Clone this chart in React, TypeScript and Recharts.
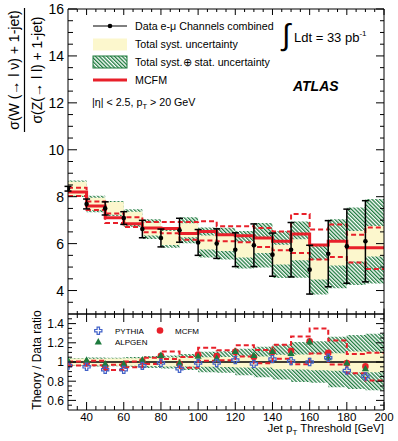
import React from 'react';
import { ComposedChart, Area, Line, Scatter, ErrorBar, XAxis, YAxis, ReferenceLine, Legend } from 'recharts';

const FONT = '"Liberation Sans", Arial, Helvetica, sans-serif';
const YELLOW = '#fcf7cd';
const GREEN = '#1d7a3d';
const RED = '#e8202a';
const BLUE = '#4262c8';

// ---- data (jet pT threshold bins, GeV) ----
const jetPtThresholds = [30, 40, 50, 60, 70, 80, 90, 100, 110, 120, 130, 140, 150, 160, 170, 180, 190];
const binEdges = [30, 40, 50, 60, 70, 80, 90, 100, 110, 120, 130, 140, 150, 160, 170, 180, 190, 200];

const dataRatio = [8.34, 7.69, 7.5, 7.09, 6.62, 6.24, 6.57, 6.05, 6.0, 5.74, 5.93, 5.53, 5.74, 4.89, 5.57, 5.89, 6.1];
const dataStatErr = [0.1, 0.21, 0.28, 0.27, 0.37, 0.38, 0.51, 0.55, 0.63, 0.72, 0.91, 0.92, 1.16, 1.04, 1.41, 1.58, 1.73];
const systHalfWidth = [0.3, 0.27, 0.27, 0.27, 0.27, 0.3, 0.3, 0.3, 0.32, 0.33, 0.33, 0.42, 0.45, 0.42, 0.5, 0.65, 0.65];
const totalHalfWidth = [0.35, 0.35, 0.32, 0.37, 0.42, 0.42, 0.55, 0.64, 0.68, 0.8, 0.95, 1.0, 1.2, 1.06, 1.47, 1.65, 1.8];
const mcfmCentral = [8.2, 7.6, 7.1, 6.85, 6.67, 6.64, 6.43, 6.52, 6.38, 6.34, 6.24, 6.1, 6.41, 5.94, 6.1, 5.82, 5.82];
const mcfmUpper = [8.38, 7.8, 7.28, 7.12, 6.92, 6.92, 6.92, 6.95, 6.74, 6.74, 6.67, 6.52, 7.26, 6.6, 6.81, 6.38, 6.69];
const mcfmLower = [8.03, 7.43, 6.88, 6.71, 6.48, 6.44, 6.17, 6.13, 6.1, 6.06, 5.86, 5.72, 5.6, 5.32, 5.43, 5.2, 4.92];

// ratio panel (theory / data)
const ratioSystHalf = [0.036, 0.035, 0.036, 0.038, 0.041, 0.048, 0.046, 0.05, 0.053, 0.057, 0.056, 0.076, 0.078, 0.086, 0.09, 0.11, 0.107];
const ratioTotalHalf = [0.042, 0.046, 0.043, 0.052, 0.063, 0.067, 0.084, 0.106, 0.113, 0.139, 0.16, 0.181, 0.209, 0.217, 0.264, 0.28, 0.295];
const ratioMcfm = [0.983, 0.988, 0.947, 0.966, 1.008, 1.064, 0.979, 1.078, 1.063, 1.105, 1.052, 1.103, 1.117, 1.215, 1.095, 0.988, 0.954];
const ratioMcfmUpper = [1.005, 1.014, 0.971, 1.004, 1.045, 1.109, 1.053, 1.149, 1.123, 1.174, 1.125, 1.179, 1.265, 1.35, 1.223, 1.083, 1.097];
const ratioMcfmLower = [0.963, 0.966, 0.917, 0.946, 0.979, 1.032, 0.939, 1.013, 1.017, 1.056, 0.988, 1.034, 0.976, 1.088, 0.975, 0.883, 0.807];
const ratioPythia = [0.963, 0.95, 0.92, 0.92, 0.96, 0.99, 0.93, 0.99, 0.99, 1.02, 0.98, 1.03, 1.01, 1.0, 1.045, 0.91, 0.85];
const ratioAlpgen = [1.02, 1.02, 0.98, 0.98, 1.02, 1.07, 0.99, 1.06, 1.04, 1.11, 1.07, 1.11, 1.09, 1.21, 1.045, 0.99, 0.93];

// ---- ticks ----
const topYTicks = [3.5, 4, 4.5, 5, 5.5, 6, 6.5, 7, 7.5, 8, 8.5, 9, 9.5, 10, 10.5, 11, 11.5, 12, 12.5, 13, 13.5, 14, 14.5, 15, 15.5, 16];
const topYLabels = [4, 6, 8, 10, 12, 14, 16];
const xTicks = [35, 40, 45, 50, 55, 60, 65, 70, 75, 80, 85, 90, 95, 100, 105, 110, 115, 120, 125, 130, 135, 140, 145, 150, 155, 160, 165, 170, 175, 180, 185, 190, 195, 200];
const xLabels = [40, 60, 80, 100, 120, 140, 160, 180, 200];
const ratioYTicks = [0.55, 0.6, 0.65, 0.7, 0.75, 0.8, 0.85, 0.9, 0.95, 1, 1.05, 1.1, 1.15, 1.2, 1.25, 1.3, 1.35, 1.4, 1.45];
const ratioYLabels = [0.6, 0.8, 1, 1.2, 1.4];

// ---- tables built from the arrays ----
const lastBin = jetPtThresholds.length - 1;
const topRows = binEdges.map((x, i) => {
  const k = Math.min(i, lastBin);
  return {
    x,
    syst: [dataRatio[k] - systHalfWidth[k], dataRatio[k] + systHalfWidth[k]],
    total: [dataRatio[k] - totalHalfWidth[k], dataRatio[k] + totalHalfWidth[k]],
    mcfm: mcfmCentral[k],
    up: mcfmUpper[k],
    down: mcfmLower[k],
  };
});
const dataPoints = jetPtThresholds.map((x, i) => ({ x, y: dataRatio[i], err: dataStatErr[i] }));

const ratioRows = binEdges.map((x, i) => {
  const k = Math.min(i, lastBin);
  return {
    x,
    syst: [1 - ratioSystHalf[k], 1 + ratioSystHalf[k]],
    total: [1 - ratioTotalHalf[k], 1 + ratioTotalHalf[k]],
    up: ratioMcfmUpper[k],
    down: ratioMcfmLower[k],
  };
});
const mcfmPoints = jetPtThresholds.map((x, i) => ({ x, y: ratioMcfm[i] }));
const pythiaPoints = jetPtThresholds.map((x, i) => ({ x, y: ratioPythia[i] }));
const alpgenPoints = jetPtThresholds.map((x, i) => ({ x, y: ratioAlpgen[i] }));

// ---- tick renderers ----
const isIn = (arr: number[], v: number) => arr.some((m) => Math.abs(m - v) < 1e-6);

const leftTick = (labels: number[], majorLen: number, minorLen: number, fs: number, fmt: (v: number) => string) =>
  (p: any) => {
    const v = p.payload.value;
    const major = isIn(labels, v);
    return (
      <g>
        <line x1={p.x} y1={p.y} x2={p.x + (major ? majorLen : minorLen)} y2={p.y} stroke="#000" strokeWidth={1} />
        {major ? (
          <text x={p.x - 4} y={p.y} dy="0.36em" textAnchor="end" fontSize={fs} fontFamily={FONT} fill="#000">
            {fmt(v)}
          </text>
        ) : null}
      </g>
    );
  };

const rightTick = (labels: number[], majorLen: number, minorLen: number) => (p: any) => {
  const major = isIn(labels, p.payload.value);
  return <line x1={p.x} y1={p.y} x2={p.x - (major ? majorLen : minorLen)} y2={p.y} stroke="#000" strokeWidth={1} />;
};

const bottomTick = (majorLen: number, minorLen: number, withLabels: boolean) => (p: any) => {
  const v = p.payload.value;
  const major = isIn(xLabels, v);
  return (
    <g>
      <line x1={p.x} y1={p.y} x2={p.x} y2={p.y - (major ? majorLen : minorLen)} stroke="#000" strokeWidth={1} />
      {withLabels && major ? (
        <text x={p.x} y={p.y + 7} dy="0.36em" textAnchor="middle" fontSize={11.5} fontFamily={FONT} fill="#000">
          {String(v)}
        </text>
      ) : null}
    </g>
  );
};

const topTick = (majorLen: number, minorLen: number) => (p: any) => {
  const major = isIn(xLabels, p.payload.value);
  return <line x1={p.x} y1={p.y} x2={p.x} y2={p.y + (major ? majorLen : minorLen)} stroke="#000" strokeWidth={1} />;
};

// ---- marker shapes ----
const DataDot = (p: any) => <circle cx={p.cx} cy={p.cy} r={2.3} fill="#000" />;
const RedDot = (p: any) => <circle cx={p.cx} cy={p.cy} r={3.3} fill={RED} />;
const crossPath = (cx: number, cy: number, s: number, a: number) =>
  `M${cx - a},${cy - s}L${cx + a},${cy - s}L${cx + a},${cy - a}L${cx + s},${cy - a}L${cx + s},${cy + a}L${cx + a},${cy + a}L${cx + a},${cy + s}L${cx - a},${cy + s}L${cx - a},${cy + a}L${cx - s},${cy + a}L${cx - s},${cy - a}L${cx - a},${cy - a}Z`;
const OpenCross = (p: any) => <path d={crossPath(p.cx, p.cy, 3.6, 1.2)} fill="none" stroke={BLUE} strokeWidth={1.2} />;
const triPath = (cx: number, cy: number) => `M${cx},${cy - 3.8}L${cx + 3.6},${cy + 2.6}L${cx - 3.6},${cy + 2.6}Z`;
const Triangle = (p: any) => <path d={triPath(p.cx, p.cy)} fill={GREEN} />;

const hatchDef = (id: string) => (
  <pattern id={id} patternUnits="userSpaceOnUse" width={2.7} height={10} patternTransform="rotate(-45)">
    <rect x={0} y={0} width={1.3} height={10} fill={GREEN} />
  </pattern>
);

// ---- annotation layers ----
const TopAnnotations = () => (
  <svg width={398} height={330} style={{ position: 'absolute', left: 0, top: 0 }} fontFamily={FONT}>
    <defs>{hatchDef('hatchLegendTop')}</defs>
    <text transform="translate(18.5,70) rotate(-90)" textAnchor="middle" fontSize={14} fill="#000">
      σ(W (→ l ν) + 1-jet)
    </text>
    <line x1={24.5} x2={24.5} y1={8} y2={132} stroke="#000" strokeWidth={1.2} />
    <text transform="translate(42,70) rotate(-90)" textAnchor="middle" fontSize={14} fill="#000">
      σ(Z(→ l l) + 1-jet)
    </text>

    <line x1={93} x2={127} y1={26} y2={26} stroke="#000" strokeWidth={1.2} />
    <circle cx={110} cy={26} r={2.3} fill="#000" />
    <text x={135} y={29.8} fontSize={10.7} fill="#000">Data e-μ Channels combined</text>

    <rect x={93} y={38.5} width={34} height={12} fill={YELLOW} />
    <text x={135} y={48.2} fontSize={10.7} fill="#000">Total syst. uncertainty</text>

    <rect x={93} y={56} width={34} height={12} fill="url(#hatchLegendTop)" stroke={GREEN} strokeWidth={1} />
    <text x={135} y={65.6} fontSize={10.7} fill="#000">Total syst.⊕ stat. uncertainty</text>

    <line x1={93} x2={127} y1={80} y2={80} stroke={RED} strokeWidth={3} />
    <text x={135} y={83.8} fontSize={10.7} fill="#000">MCFM</text>

    <text x={92} y={105.5} fontSize={10.7} fill="#000">
      |η| &lt; 2.5, p<tspan fontSize={7.5} dy={3}>T</tspan>
      <tspan dy={-3}> &gt; 20 GeV</tspan>
    </text>

    <text x={282} y={45} fontSize={30} fill="#000">∫</text>
    <text x={294} y={41.5} fontSize={13} fill="#000">
      Ldt = 33 pb<tspan fontSize={8} dy={-6}>-1</tspan>
    </text>
    <text x={293} y={91} fontSize={14} fontWeight="bold" fontStyle="italic" fill="#000">ATLAS</text>
  </svg>
);

const BottomAnnotations = () => (
  <svg width={398} height={141} style={{ position: 'absolute', left: 0, top: 0 }} fontFamily={FONT}>
    <path d={crossPath(98.3, 30.7, 3.6, 1.2)} fill="none" stroke={BLUE} strokeWidth={1.2} />
    <text x={115} y={33.9} fontSize={8} fill="#000">PYTHIA</text>
    <circle cx={160} cy={30.5} r={3.3} fill={RED} />
    <text x={175} y={33.9} fontSize={8} fill="#000">MCFM</text>
    <path d={triPath(98.3, 41.9)} fill={GREEN} />
    <text x={115} y={44.9} fontSize={8} fill="#000">ALPGEN</text>

    <text transform="translate(40.5,60) rotate(-90)" textAnchor="middle" fontSize={12} fill="#000">
      Theory / Data ratio
    </text>
    <text x={384} y={132.4} textAnchor="end" fontSize={11.5} fill="#000">
      Jet p<tspan fontSize={8} dy={3}>T</tspan>
      <tspan dy={-3}> Threshold [GeV]</tspan>
    </text>
  </svg>
);

const axisLine = { stroke: '#000', strokeWidth: 1 };

export default function App() {
  return (
    <div style={{ position: 'absolute', left: 0, top: 0, width: 398, height: 441, background: '#fff' }}>
      <div style={{ position: 'absolute', left: 0, top: 0 }}>
        <ComposedChart width={398} height={330} data={topRows} margin={{ top: 8, right: 13, bottom: 15, left: 67 }}>
          <defs>{hatchDef('hatchTop')}</defs>
          <XAxis xAxisId="b" dataKey="x" type="number" domain={[30, 200]} allowDataOverflow ticks={xTicks} interval={0}
            height={1} tickSize={0} tickMargin={0} tickLine={false} axisLine={axisLine} tick={bottomTick(5.5, 3, false)} />
          <XAxis xAxisId="t" dataKey="x" type="number" orientation="top" domain={[30, 200]} allowDataOverflow ticks={xTicks} interval={0}
            height={1} tickSize={0} tickMargin={0} tickLine={false} axisLine={axisLine} tick={topTick(6, 3)} />
          <YAxis yAxisId="l" type="number" domain={[3, 16]} allowDataOverflow ticks={topYTicks} interval={0}
            width={1} tickSize={0} tickMargin={0} tickLine={false} axisLine={axisLine}
            tick={leftTick(topYLabels, 9, 5, 14, (v) => String(v))} />
          <YAxis yAxisId="r" type="number" orientation="right" domain={[3, 16]} allowDataOverflow ticks={topYTicks} interval={0}
            width={1} tickSize={0} tickMargin={0} tickLine={false} axisLine={axisLine} tick={rightTick(topYLabels, 8, 4)} />

          <Area xAxisId="b" yAxisId="l" type="stepAfter" dataKey="total" stroke="none" fill="url(#hatchTop)" fillOpacity={1}
            isAnimationActive={false} activeDot={false} />
          <Area xAxisId="b" yAxisId="l" type="stepAfter" dataKey="syst" stroke="none" fill={YELLOW} fillOpacity={1}
            isAnimationActive={false} activeDot={false} />
          <Line xAxisId="b" yAxisId="l" type="stepAfter" dataKey="up" stroke={RED} strokeWidth={2} strokeDasharray="5 3"
            dot={false} activeDot={false} isAnimationActive={false} />
          <Line xAxisId="b" yAxisId="l" type="stepAfter" dataKey="down" stroke={RED} strokeWidth={2} strokeDasharray="5 3"
            dot={false} activeDot={false} isAnimationActive={false} />
          <Line xAxisId="b" yAxisId="l" type="stepAfter" dataKey="mcfm" stroke={RED} strokeWidth={3}
            dot={false} activeDot={false} isAnimationActive={false} />
          <Scatter xAxisId="b" yAxisId="l" data={dataPoints} dataKey="y" shape={DataDot} isAnimationActive={false}>
            <ErrorBar dataKey="err" direction="y" width={3.5} stroke="#000" strokeWidth={1.5} />
          </Scatter>
          <Legend content={() => <TopAnnotations />} layout="vertical" align="center" verticalAlign="middle"
            wrapperStyle={{ left: 0, top: 0, width: 398, height: 330, pointerEvents: 'none' }} />
        </ComposedChart>
      </div>

      <div style={{ position: 'absolute', left: 0, top: 300 }}>
        <ComposedChart width={398} height={141} data={ratioRows} margin={{ top: 13, right: 13, bottom: 30, left: 67 }}>
          <defs>{hatchDef('hatchRatio')}</defs>
          <XAxis xAxisId="b" dataKey="x" type="number" domain={[30, 200]} allowDataOverflow ticks={xTicks} interval={0}
            height={1} tickSize={0} tickMargin={0} tickLine={false} axisLine={axisLine} tick={bottomTick(8, 4, true)} />
          <XAxis xAxisId="t" dataKey="x" type="number" orientation="top" domain={[30, 200]} allowDataOverflow ticks={xTicks} interval={0}
            height={1} tickSize={0} tickMargin={0} tickLine={false} axisLine={axisLine} tick={topTick(8, 4)} />
          <YAxis yAxisId="l" type="number" domain={[0.5, 1.5]} allowDataOverflow ticks={ratioYTicks} interval={0}
            width={1} tickSize={0} tickMargin={0} tickLine={false} axisLine={axisLine}
            tick={leftTick(ratioYLabels, 8, 4, 12, (v) => (v === 1 ? '1' : v.toFixed(1)))} />
          <YAxis yAxisId="r" type="number" orientation="right" domain={[0.5, 1.5]} allowDataOverflow ticks={ratioYTicks} interval={0}
            width={1} tickSize={0} tickMargin={0} tickLine={false} axisLine={axisLine} tick={rightTick(ratioYLabels, 8, 4)} />

          <Area xAxisId="b" yAxisId="l" type="stepAfter" dataKey="total" stroke="none" fill="url(#hatchRatio)" fillOpacity={1}
            isAnimationActive={false} activeDot={false} />
          <Area xAxisId="b" yAxisId="l" type="stepAfter" dataKey="syst" stroke="none" fill={YELLOW} fillOpacity={1}
            isAnimationActive={false} activeDot={false} />
          <ReferenceLine xAxisId="b" yAxisId="l" y={1} stroke="#000" strokeWidth={1.5} />
          <Line xAxisId="b" yAxisId="l" type="stepAfter" dataKey="up" stroke={RED} strokeWidth={2} strokeDasharray="5 3"
            dot={false} activeDot={false} isAnimationActive={false} />
          <Line xAxisId="b" yAxisId="l" type="stepAfter" dataKey="down" stroke={RED} strokeWidth={2} strokeDasharray="5 3"
            dot={false} activeDot={false} isAnimationActive={false} />
          <Scatter xAxisId="b" yAxisId="l" data={mcfmPoints} dataKey="y" shape={RedDot} isAnimationActive={false} />
          <Scatter xAxisId="b" yAxisId="l" data={alpgenPoints} dataKey="y" shape={Triangle} isAnimationActive={false} />
          <Scatter xAxisId="b" yAxisId="l" data={pythiaPoints} dataKey="y" shape={OpenCross} isAnimationActive={false} />
          <Legend content={() => <BottomAnnotations />} layout="vertical" align="center" verticalAlign="middle"
            wrapperStyle={{ left: 0, top: 0, width: 398, height: 141, pointerEvents: 'none' }} />
        </ComposedChart>
      </div>
    </div>
  );
}
